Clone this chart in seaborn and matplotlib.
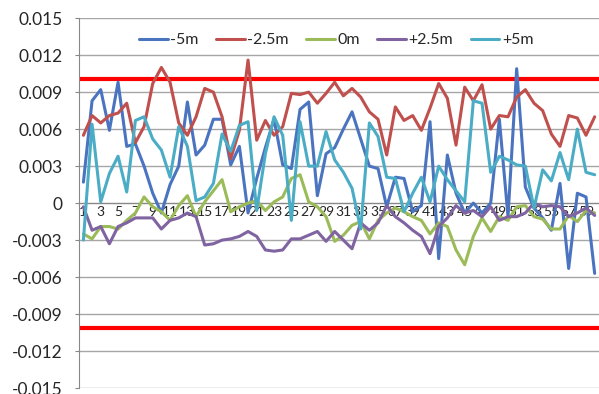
import numpy as np
import pandas as pd
import seaborn as sns
import matplotlib.pyplot as plt

sns.set_style("white")
plt.rcParams['font.family'] = ['Lato', 'DejaVu Sans']

points = list(range(1, 61))

minus5 = [0.0017, 0.0083, 0.0092, 0.0059, 0.0098, 0.0046, 0.0048, 0.0030, 0.0008, -0.0008,
          0.0015, 0.0030, 0.0082, 0.0039, 0.0047, 0.0068, 0.0068, 0.0031, 0.0046, -0.0008,
          0.0020, 0.0045, 0.0068, 0.0031, 0.0028, 0.0076, 0.0082, 0.0006, 0.0040, 0.0045,
          0.0060, 0.0074, 0.0052, 0.0030, 0.0028, -0.0003, 0.0021, 0.0020, -0.0007, -0.0002,
          0.0066, -0.0045, 0.0039, 0.0008, -0.0008, 0.0000, -0.0008, 0.0000, 0.0068, -0.0011,
          0.0109, 0.0013, -0.0004, -0.0012, -0.0022, 0.0016, -0.0053, 0.0008, 0.0005, -0.0057]
minus25 = [0.0055, 0.0071, 0.0065, 0.0071, 0.0073, 0.0081, 0.0049, 0.0062, 0.0097, 0.0110,
           0.0098, 0.0065, 0.0055, 0.0070, 0.0093, 0.0090, 0.0070, 0.0036, 0.0059, 0.0116,
           0.0051, 0.0067, 0.0055, 0.0062, 0.0089, 0.0088, 0.0090, 0.0081, 0.0089, 0.0098,
           0.0087, 0.0093, 0.0086, 0.0074, 0.0068, 0.0039, 0.0078, 0.0067, 0.0071, 0.0059,
           0.0077, 0.0097, 0.0085, 0.0047, 0.0094, 0.0083, 0.0096, 0.0060, 0.0071, 0.0070,
           0.0086, 0.0092, 0.0081, 0.0075, 0.0056, 0.0046, 0.0071, 0.0069, 0.0055, 0.0070]
zero = [-0.0025, -0.0029, -0.0019, -0.0019, -0.0021, -0.0014, -0.0008, 0.0005, -0.0003, -0.0007,
        -0.0014, -0.0002, 0.0006, -0.0011, 0.0001, 0.0010, 0.0019, -0.0007, -0.0003, 0.0000,
        0.0002, -0.0006, 0.0001, 0.0005, 0.0020, 0.0023, 0.0001, -0.0003, -0.0011, -0.0031,
        -0.0026, -0.0018, -0.0015, -0.0029, -0.0014, -0.0008, -0.0004, -0.0007, -0.0011, -0.0014,
        -0.0025, -0.0016, -0.0019, -0.0038, -0.0050, -0.0027, -0.0012, -0.0023, -0.0011, -0.0014,
        -0.0003, -0.0002, -0.0011, -0.0013, -0.0021, -0.0021, -0.0010, -0.0015, -0.0006, -0.0008]
plus25 = [-0.0003, -0.0022, -0.0019, -0.0033, -0.0019, -0.0016, -0.0012, -0.0012, -0.0012, -0.0021,
          -0.0014, -0.0012, -0.0008, -0.0011, -0.0034, -0.0033, -0.0030, -0.0029, -0.0027, -0.0023,
          -0.0027, -0.0038, -0.0039, -0.0038, -0.0029, -0.0029, -0.0026, -0.0023, -0.0031, -0.0023,
          -0.0030, -0.0037, -0.0016, -0.0022, -0.0016, -0.0002, -0.0011, -0.0016, -0.0022, -0.0027,
          -0.0041, -0.0019, -0.0012, -0.0002, -0.0008, -0.0006, -0.0011, -0.0003, -0.0014, -0.0011,
          -0.0011, -0.0008, 0.0000, -0.0003, -0.0002, -0.0003, -0.0011, -0.0008, -0.0004, -0.0010]
plus5 = [-0.0030, 0.0064, 0.0001, 0.0024, 0.0038, 0.0009, 0.0067, 0.0070, 0.0052, 0.0043,
         0.0021, 0.0062, 0.0046, 0.0002, 0.0005, 0.0016, 0.0056, 0.0042, 0.0063, 0.0066,
         -0.0006, 0.0040, 0.0070, 0.0055, -0.0014, 0.0066, 0.0030, 0.0030, 0.0058, 0.0035,
         0.0025, 0.0012, -0.0021, 0.0065, 0.0054, 0.0021, 0.0020, -0.0007, 0.0008, 0.0021,
         0.0001, 0.0030, 0.0019, 0.0010, 0.0001, 0.0083, 0.0081, 0.0025, 0.0038, 0.0035,
         0.0031, 0.0030, -0.0004, 0.0027, 0.0018, 0.0041, 0.0019, 0.0060, 0.0025, 0.0023]

series_names = ['-5m', '-2.5m', '0m', '+2.5m', '+5m']
series_colors = ['#4A74C0', '#C0504D', '#9BBB59', '#8064A2', '#4BACC6']
limit = 0.0101
y_ticks = [0.015, 0.012, 0.009, 0.006, 0.003, 0, -0.003, -0.006, -0.009, -0.012, -0.015]
y_labels = ['0.015', '0.012', '0.009', '0.006', '0.003', '0',
            '-0.003', '-0.006', '-0.009', '-0.012', '-0.015']

wide = pd.DataFrame({'point': points, '-5m': minus5, '-2.5m': minus25, '0m': zero,
                     '+2.5m': plus25, '+5m': plus5})
data = wide.melt(id_vars='point', var_name='series', value_name='value')

fig = plt.figure(figsize=(5.99, 3.94), dpi=100)
ax = fig.add_axes([0.132, 0.015, 0.868, 0.939])

ax.axhline(limit, color='#FF0000', linewidth=3, zorder=2)
ax.axhline(-limit, color='#FF0000', linewidth=3, zorder=2)
sns.lineplot(data=data, x='point', y='value', hue='series', hue_order=series_names,
             palette=series_colors, linewidth=2.2, ax=ax, zorder=3)

ax.set_xlim(0.5, 60.5)
ax.set_ylim(-0.015, 0.015)
ax.set_yticks(y_ticks)
ax.set_yticklabels(y_labels, fontsize=12.5)
ax.set_xticks(range(1, 61, 2))
ax.set_xticklabels([str(p) for p in range(1, 61, 2)], fontsize=12)
ax.set_xticks(np.arange(1.5, 60, 1), minor=True)
ax.tick_params(axis='x', which='major', length=0, pad=2)
ax.tick_params(axis='x', which='minor', length=4, color='#888888', direction='out')
ax.tick_params(axis='y', length=3, pad=9, color='#888888', direction='out', left=True)
ax.set_xlabel('')
ax.set_ylabel('')

ax.yaxis.grid(True, color='#A6A6A6', linewidth=1)
ax.set_axisbelow(True)
ax.spines['top'].set_visible(False)
ax.spines['right'].set_visible(False)
ax.spines['left'].set_color('#888888')
ax.spines['bottom'].set_color('#888888')
ax.spines['bottom'].set_position(('data', 0))

ax.legend(ncol=5, frameon=False, loc='center', bbox_to_anchor=(0.561, 0.898),
          bbox_transform=fig.transFigure, fontsize=11.5, handlelength=1.8,
          columnspacing=1.1, handletextpad=0.15)

fig.savefig('out.png', dpi=100)
